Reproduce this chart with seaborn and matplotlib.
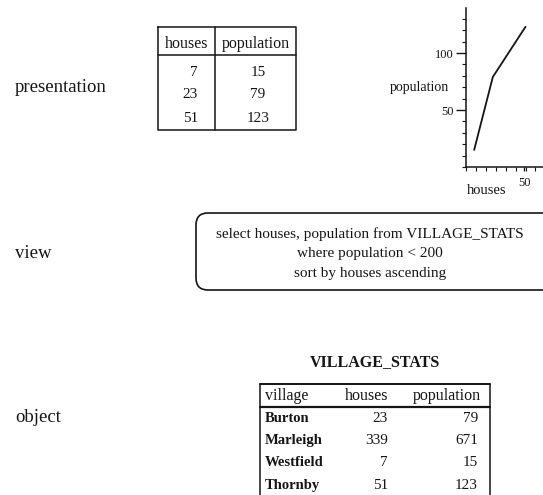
import matplotlib
matplotlib.use("Agg")
import matplotlib.pyplot as plt
from matplotlib.patches import FancyBboxPatch
from matplotlib.ticker import MultipleLocator
import pandas as pd
import seaborn as sns

# object: the base table
village = ["Burton", "Marleigh", "Westfield", "Thornby"]
houses = [23, 339, 7, 51]
population = [79, 671, 15, 123]

layer_labels = ["presentation", "view", "object"]
query_lines = ["select houses, population from VILLAGE_STATS",
               "where population < 200",
               "sort by houses ascending"]

stats = pd.DataFrame({"village": village, "houses": houses, "population": population})
# the view: where population < 200, sort by houses ascending
view = stats.query("population < 200").sort_values("houses")[["houses", "population"]]

sns.set_theme(style="white")
plt.rcParams["font.family"] = ["Liberation Serif", "DejaVu Serif"]

W, H = 543, 495
fig = plt.figure(figsize=(W / 100, H / 100), dpi=100)
bg = fig.add_axes([0, 0, 1, 1])
bg.set_xlim(0, W)
bg.set_ylim(H, 0)
bg.axis("off")

ink = "#151515"

# left-hand layer names
for lab, yy in zip(layer_labels, [87, 253, 418]):
    bg.text(15, yy, lab, fontsize=13.5, va="center", ha="left", color=ink)

# ---- presentation table ----
tl, tr, tdiv, ttop, thead, tbot = 158, 296, 215, 27, 55, 130
bg.plot([tl, tr, tr, tl, tl], [ttop, ttop, tbot, tbot, ttop], color=ink, lw=1.1)
bg.plot([tdiv, tdiv], [ttop, tbot], color=ink, lw=1.1)
bg.plot([tl, tr], [thead, thead], color=ink, lw=1.1)
bg.text((tl + tdiv) / 2, 44, "houses", fontsize=11.5, ha="center", va="center", color=ink)
bg.text((tdiv + tr) / 2, 44, "population", fontsize=11.5, ha="center", va="center", color=ink)
for i, (h, p) in enumerate(zip(view["houses"], view["population"])):
    yy = 72 + i * 23
    bg.text(198, yy, str(h), fontsize=11, ha="right", va="center", color=ink)
    bg.text(258, yy, str(p), fontsize=11, ha="center", va="center", color=ink)

# ---- view box ----
box = FancyBboxPatch((196, 213), 400, 77, boxstyle="round,pad=0,rounding_size=12",
                     fill=False, ec=ink, lw=1.2, clip_on=True)
bg.add_patch(box)
for i, line in enumerate(query_lines):
    bg.text(370, 234 + i * 20, line, fontsize=11, ha="center", va="center", color=ink)

# ---- object table ----
bg.text(375, 362, "VILLAGE_STATS", fontsize=11.5, fontweight="bold",
        ha="center", va="center", color=ink)
ol, orr, otop, ohead, obot = 260, 490, 384, 407, 500
bg.plot([ol, orr], [otop, otop], color=ink, lw=1.4)
bg.plot([ol, orr], [ohead, ohead], color=ink, lw=1.6)
bg.plot([ol, ol], [otop, obot], color=ink, lw=1.1)
bg.plot([orr, orr], [otop, obot], color=ink, lw=1.1)
bg.text(265, 396, "village", fontsize=11.5, ha="left", va="center", color=ink)
bg.text(367, 396, "houses", fontsize=11.5, ha="center", va="center", color=ink)
bg.text(447, 396, "population", fontsize=11.5, ha="center", va="center", color=ink)
for i, row in enumerate(stats.itertuples()):
    yy = 418 + i * 22.5
    bg.text(265, yy, row.village, fontsize=10.5, fontweight="bold", ha="left", va="center", color=ink)
    bg.text(388, yy, str(row.houses), fontsize=11, ha="right", va="center", color=ink)
    bg.text(478, yy, str(row.population), fontsize=11, ha="right", va="center", color=ink)

# ---- presentation chart ----
ax = fig.add_axes([466 / W, (H - 167) / H, (W - 466) / W, 159 / H])
sns.lineplot(data=view, x="houses", y="population", ax=ax, color=ink, lw=1.3)
ax.set_xlim(0, 66)
ax.set_ylim(0, 139.5)
ax.patch.set_alpha(0)
sns.despine(ax=ax)
for s in ["left", "bottom"]:
    ax.spines[s].set_color(ink)
    ax.spines[s].set_linewidth(1.1)
ax.xaxis.set_minor_locator(MultipleLocator(8.5))
ax.yaxis.set_minor_locator(MultipleLocator(10))
ax.set_xticks([50])
ax.set_yticks([50, 100])
ax.tick_params(which="major", direction="out", length=7, width=1, color=ink,
               labelsize=9, labelcolor=ink, left=True, bottom=True, pad=2)
ax.tick_params(which="minor", direction="out", length=3, width=0.8, color=ink,
               left=True, bottom=True)
ax.tick_params(axis="x", which="major", length=3, pad=4)
ax.set_xlabel("")
ax.set_ylabel("")
bg.text(449, 87, "population", fontsize=10, ha="right", va="center", color=ink)
bg.text(487, 191, "houses", fontsize=10.5, ha="center", va="center", color=ink)

fig.savefig("out.png", dpi=100)
